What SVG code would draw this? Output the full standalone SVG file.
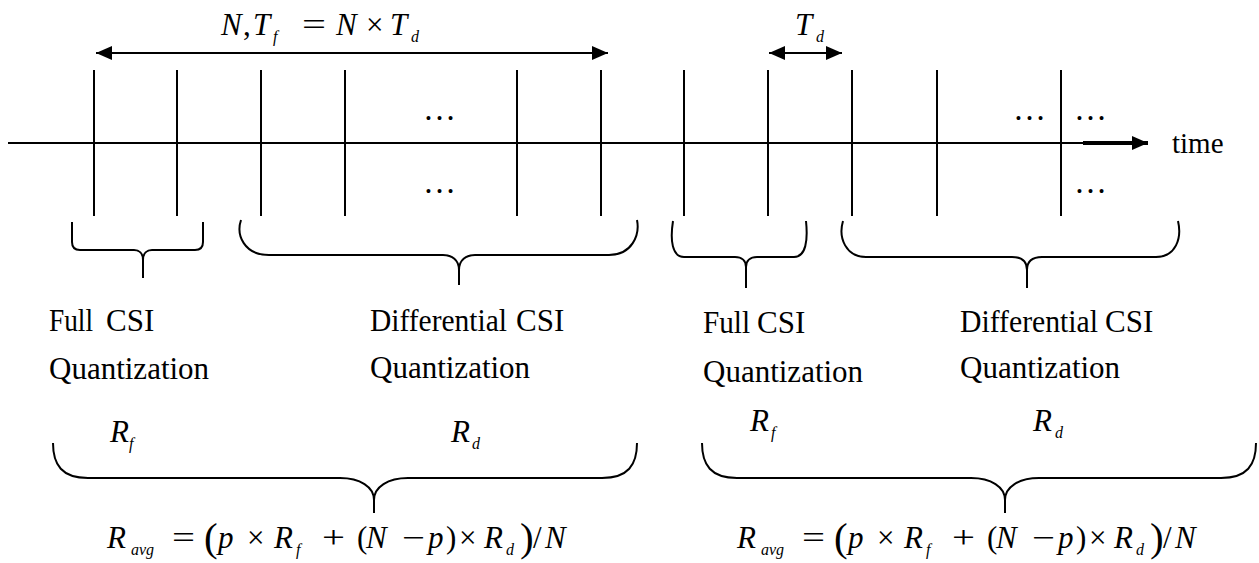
<svg xmlns="http://www.w3.org/2000/svg" width="1259" height="563" viewBox="0 0 1259 563">
<style>
.ln{stroke:#000;stroke-width:2;fill:none}
.br{stroke:#000;stroke-width:2;fill:none;stroke-linejoin:round}
text{font-family:"Liberation Serif","Times New Roman",serif;fill:#000}
.t{font-size:31px}
.m{font-size:31px;font-style:italic}
.o{font-size:31px}
.s{font-size:16px;font-style:italic}
.bp{font-size:41px}
.dots{font-size:33px}
.tm{font-size:29px}
</style>
<defs>
<marker id="ah" viewBox="0 0 16 14" refX="16" refY="7" markerWidth="16" markerHeight="14" markerUnits="userSpaceOnUse" orient="auto-start-reverse">
<path d="M0,0 L16,7 L0,14 Z" fill="#000"/>
</marker>
</defs>
<rect width="1259" height="563" fill="#fff"/>

<g id="timeline">
<line class="ln" x1="8" y1="143" x2="1090" y2="143"/>
<text class="tm" x="1172" y="153">time</text>
</g>

<g id="ticks">
<line class="ln" x1="94" y1="70" x2="94" y2="216"/>
<line class="ln" x1="177" y1="70" x2="177" y2="216"/>
<line class="ln" x1="261" y1="70" x2="261" y2="216"/>
<line class="ln" x1="345" y1="70" x2="345" y2="216"/>
<line class="ln" x1="517" y1="70" x2="517" y2="216"/>
<line class="ln" x1="601" y1="70" x2="601" y2="216"/>
<line class="ln" x1="684" y1="70" x2="684" y2="216"/>
<line class="ln" x1="768" y1="70" x2="768" y2="216"/>
<line class="ln" x1="852" y1="70" x2="852" y2="216"/>
<line class="ln" x1="937" y1="70" x2="937" y2="216"/>
<line class="ln" x1="1061" y1="70" x2="1061" y2="216"/>
</g>

<g id="ellipses">
<text class="dots" x="423" y="120">…</text>
<text class="dots" x="423" y="193">…</text>
<text class="dots" x="1013" y="120">…</text>
<text class="dots" x="1074" y="120">…</text>
<text class="dots" x="1074" y="193">…</text>
</g>

<g id="connectors">
<line class="ln" x1="96" y1="53" x2="608" y2="53" marker-start="url(#ah)" marker-end="url(#ah)"/>
<line class="ln" x1="769" y1="53" x2="842" y2="53" marker-start="url(#ah)" marker-end="url(#ah)"/>
<line x1="1083" y1="143" x2="1148" y2="143" stroke="#000" stroke-width="4" marker-end="url(#ah)"/>
</g>

<g id="label-frame">
<text class="m" x="221" y="35">N</text>
<text class="o" x="243" y="35">,</text>
<text class="m" x="253" y="35">T</text>
<text class="s" x="273" y="42">f</text>
<text class="o" x="302" y="35" textLength="24" lengthAdjust="spacingAndGlyphs">=</text>
<text class="m" x="336" y="35">N</text>
<text class="o" x="366" y="35">×</text>
<text class="m" x="390" y="35">T</text>
<text class="s" x="411" y="42">d</text>
</g>

<g id="label-td">
<text class="m" x="795" y="35">T</text>
<text class="s" x="816" y="42">d</text>
</g>

<g id="brace-full-1">
<path class="br" d="M72,222 L72,242 Q72,250 80,250 L134,250 C139,250 143,253 143,260 L143,278 M143,260 C143,253 147,250 152,250 L195,250 Q203,250 203,242 L203,222"/>
<text class="t"><tspan x="49" y="331" textLength="44" lengthAdjust="spacingAndGlyphs">Full</tspan><tspan x="106" y="331">CSI</tspan></text>
<text class="t" x="49" y="379">Quantization</text>
<text class="m" x="110" y="442">R</text>
<text class="s" x="129" y="449">f</text>
</g>

<g id="brace-diff-1">
<path class="br" d="M241,220 C236,235 244,255 269,255 L443,255 C452,255 459,260 459,270 L459,285 M459,270 C459,260 466,255 475,255 L609,255 C632,255 640,235 637,220"/>
<text class="t"><tspan x="370" y="331" textLength="137" lengthAdjust="spacingAndGlyphs">Differential</tspan><tspan x="516" y="331">CSI</tspan></text>
<text class="t" x="370" y="378">Quantization</text>
<text class="m" x="451" y="442">R</text>
<text class="s" x="472" y="449">d</text>
</g>

<g id="brace-full-2">
<path class="br" d="M673,221 C670,240 672,257 684,257 L735,257 C742,257 746,261 746,267 L746,288 M746,267 C746,261 750,257 757,257 L794,257 C806,257 808,240 806,221"/>
<text class="t"><tspan x="703" y="333" textLength="47" lengthAdjust="spacingAndGlyphs">Full</tspan><tspan x="757" y="333">CSI</tspan></text>
<text class="t" x="703" y="382">Quantization</text>
<text class="m" x="750" y="431">R</text>
<text class="s" x="771" y="438">f</text>
</g>

<g id="brace-diff-2">
<path class="br" d="M843,221 C838,238 846,257 866,257 L1012,257 C1021,257 1027,261 1027,270 L1027,288 M1027,270 C1027,261 1033,257 1042,257 L1156,257 C1176,257 1182,238 1178,221"/>
<text class="t"><tspan x="960" y="332" textLength="138" lengthAdjust="spacingAndGlyphs">Differential</tspan><tspan x="1105" y="332">CSI</tspan></text>
<text class="t" x="960" y="378">Quantization</text>
<text class="m" x="1033" y="431">R</text>
<text class="s" x="1055" y="438">d</text>
</g>

<g id="brace-avg-1">
<path class="br" d="M53,443 C53,465 62,478 88,478 L340,478 C360,478 374,487 374,500 L374,513 M374,500 C374,487 388,478 408,478 L602,478 C628,478 637,465 637,443"/>
<text class="m" x="107" y="548">R</text>
<text class="s" x="131" y="555">avg</text>
<text class="o" x="172" y="548" textLength="23" lengthAdjust="spacingAndGlyphs">=</text>
<text class="bp" x="204" y="551">(</text>
<text class="m" x="218" y="548">p</text>
<text class="o" x="247" y="548">×</text>
<text class="m" x="274" y="548">R</text>
<text class="s" x="296" y="555">f</text>
<text class="o" x="322" y="548" textLength="23" lengthAdjust="spacingAndGlyphs">+</text>
<text class="o" x="357" y="548">(</text>
<text class="m" x="366" y="548">N</text>
<text class="o" x="402" y="548" textLength="23" lengthAdjust="spacingAndGlyphs">−</text>
<text class="m" x="428" y="548">p</text>
<text class="o" x="446" y="548">)</text>
<text class="o" x="459" y="548">×</text>
<text class="m" x="484" y="548">R</text>
<text class="s" x="506" y="555">d</text>
<text class="bp" x="520" y="551">)</text>
<text class="o" x="533" y="548">/</text>
<text class="m" x="545" y="548">N</text>
</g>

<g id="brace-avg-2">
<path class="br" d="M702,443 C702,465 711,478 737,478 L971,478 C991,478 1005,487 1005,500 L1005,513 M1005,500 C1005,487 1019,478 1039,478 L1221,478 C1247,478 1256,465 1256,443"/>
<g transform="translate(630 0)">
<text class="m" x="107" y="548">R</text>
<text class="s" x="131" y="555">avg</text>
<text class="o" x="172" y="548" textLength="23" lengthAdjust="spacingAndGlyphs">=</text>
<text class="bp" x="204" y="551">(</text>
<text class="m" x="218" y="548">p</text>
<text class="o" x="247" y="548">×</text>
<text class="m" x="274" y="548">R</text>
<text class="s" x="296" y="555">f</text>
<text class="o" x="322" y="548" textLength="23" lengthAdjust="spacingAndGlyphs">+</text>
<text class="o" x="357" y="548">(</text>
<text class="m" x="366" y="548">N</text>
<text class="o" x="402" y="548" textLength="23" lengthAdjust="spacingAndGlyphs">−</text>
<text class="m" x="428" y="548">p</text>
<text class="o" x="446" y="548">)</text>
<text class="o" x="459" y="548">×</text>
<text class="m" x="484" y="548">R</text>
<text class="s" x="506" y="555">d</text>
<text class="bp" x="520" y="551">)</text>
<text class="o" x="533" y="548">/</text>
<text class="m" x="545" y="548">N</text>
</g>
</g>
</svg>
